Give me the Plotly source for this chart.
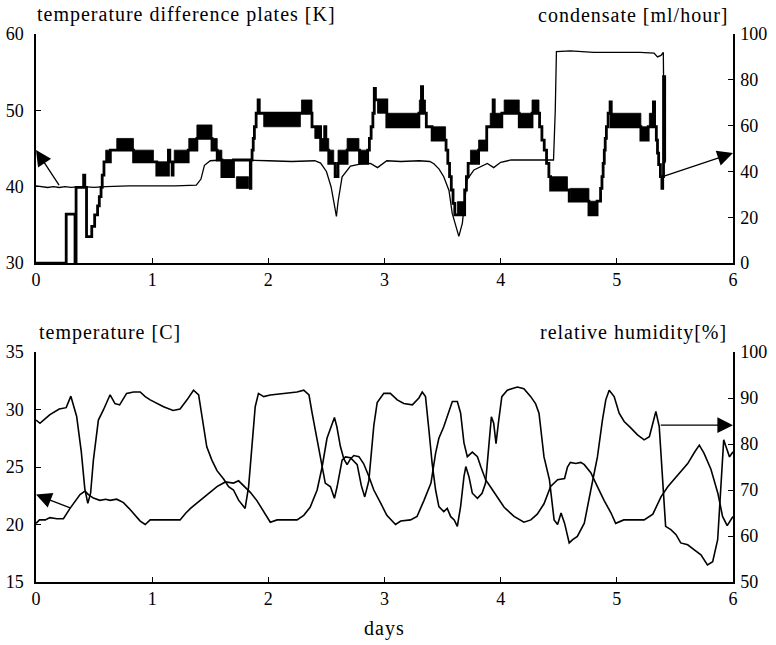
import plotly.graph_objects as go

# ---------------- data ----------------
# top panel: temperature difference plates [K] (thin line, left axis)
tdiff_t = [0.0, 0.05, 0.1, 0.15, 0.2, 0.25, 0.3, 0.4, 0.5, 0.6, 0.8, 1.0, 1.2, 1.38, 1.42, 1.45, 1.5, 1.6,
           1.8, 2.0, 2.2, 2.4, 2.45, 2.5, 2.54, 2.57, 2.586, 2.6, 2.635, 2.707, 2.8, 2.88, 2.94, 3.02,
           3.14, 3.3, 3.39, 3.425, 3.47, 3.51, 3.555, 3.583, 3.61, 3.64, 3.67, 3.69, 3.71, 3.77, 3.885,
           3.94, 4.0, 4.09, 4.37, 4.455, 4.47, 4.48, 4.6, 4.7, 4.8, 5.0, 5.2, 5.32, 5.35, 5.38, 5.40, 5.41]
tdiff_v = [40.1, 40.0, 39.9, 40.0, 39.9, 40.0, 39.9, 40.0, 39.9, 40.0, 40.1, 40.1, 40.1, 40.2, 41.0, 42.8, 43.4, 43.5,
           43.5, 43.4, 43.3, 43.4, 43.1, 42.0, 40.0, 37.5, 36.1, 38.0, 41.3, 42.7, 43.0, 43.05, 42.5, 43.4,
           43.3, 43.4, 43.3, 43.0, 42.3, 41.3, 39.5, 36.5, 35.0, 33.5, 35.2, 38.5, 40.9, 42.2, 43.05,
           42.5, 43.2, 43.5, 43.5, 43.5, 50.0, 57.7, 57.8, 57.7, 57.6, 57.6, 57.6, 57.5, 57.0, 57.2, 57.6, 43.3]

# top panel: condensate [ml/hour] (thick stepped line, right axis), (start day, value)
condensate_steps = [
    (0.00, 0), (0.26, 21.4), (0.336, 0), (0.345, 33), (0.41, 38.4), (0.42, 33), (0.435, 11.5),
    (0.48, 16), (0.505, 21), (0.53, 25), (0.545, 29), (0.56, 33), (0.57, 38.4), (0.585, 44.2),
    (0.64, 49.3), (0.695, 49.3), (0.84, 44.2), (1.04, 38.4), (1.14, 49.3), (1.152, 44.2),
    (1.172, 38.4), (1.18, 44.2), (1.31, 49.3), (1.385, 54.4), (1.515, 49.3), (1.56, 45.0),
    (1.60, 37.7), (1.70, 45.0), (1.845, 32.6), (1.85, 45.0), (1.86, 49.3), (1.87, 54.4),
    (1.88, 59.5), (1.895, 65.4), (1.912, 71.2), (1.922, 65.4), (2.28, 65.4), (2.376, 59.5),
    (2.45, 49.3), (2.485, 59.5), (2.495, 49.3), (2.52, 43.5), (2.575, 37.7), (2.60, 43.5),
    (2.678, 49.3), (2.785, 43.5), (2.855, 49.3), (2.87, 54.4), (2.885, 59.5), (2.90, 65.4),
    (2.912, 76.3), (2.922, 71.2), (3.02, 59.5), (3.296, 65.4), (3.318, 77.0), (3.328, 65.4),
    (3.36, 59.5), (3.41, 53.7), (3.53, 49.3), (3.545, 43.5), (3.56, 37.7), (3.575, 31.9),
    (3.59, 26.1), (3.605, 21.0), (3.69, 31.9), (3.705, 37.7), (3.72, 43.5), (3.81, 49.3),
    (3.88, 59.5), (3.935, 71.2), (3.945, 59.5), (4.01, 65.4), (4.16, 59.5), (4.27, 65.4),
    (4.335, 59.5), (4.355, 53.7), (4.375, 49.3), (4.395, 43.5), (4.415, 37.7), (4.43, 31.9),
    (4.59, 27.0), (4.76, 21.0), (4.83, 27.0), (4.86, 32.6), (4.872, 37.7), (4.882, 43.5),
    (4.892, 49.3), (4.90, 54.4), (4.91, 59.5), (4.925, 65.4), (4.942, 70.4), (4.952, 59.5),
    (5.207, 53.7), (5.27, 59.5), (5.315, 70.4), (5.325, 59.5), (5.34, 53.7), (5.35, 48.0),
    (5.36, 43.0), (5.375, 37.7), (5.388, 32.6), (5.395, 37.7), (5.402, 81.4), (5.412, 44.2),
    (5.42, 44.2),
]
# condensate noise bands (start day, end day, low, high) in ml/hour
condensate_bands = [
    (0.60, 0.64, 44.2, 49.3), (0.695, 0.839, 49.3, 54.4), (0.845, 1.011, 44.2, 49.3),
    (1.04, 1.14, 38.4, 44.2), (1.19, 1.31, 44.2, 49.3), (1.315, 1.385, 49.3, 54.4),
    (1.385, 1.515, 54.4, 60.3), (1.515, 1.56, 49.3, 54.4), (1.56, 1.60, 45.0, 49.3),
    (1.60, 1.70, 37.7, 45.0), (1.725, 1.83, 32.6, 37.7), (1.96, 2.276, 59.5, 65.4),
    (2.285, 2.376, 65.4, 71.2), (2.40, 2.45, 54.4, 59.5), (2.45, 2.52, 49.3, 54.4),
    (2.52, 2.563, 43.5, 49.3), (2.60, 2.678, 43.5, 49.3), (2.678, 2.78, 49.3, 54.4),
    (2.79, 2.85, 43.5, 49.3), (2.94, 3.02, 65.4, 71.2), (3.02, 3.296, 59.5, 65.4),
    (3.30, 3.353, 65.4, 71.2), (3.41, 3.526, 53.7, 59.5), (3.627, 3.684, 21.0, 26.8),
    (3.74, 3.81, 43.5, 49.3), (3.81, 3.88, 49.3, 53.7), (3.91, 4.01, 59.5, 65.4),
    (4.03, 4.16, 65.4, 71.2), (4.16, 4.27, 59.5, 65.4), (4.27, 4.33, 65.4, 71.2),
    (4.43, 4.575, 31.9, 37.7), (4.60, 4.76, 27.0, 32.6), (4.76, 4.83, 21.0, 27.0),
    (4.95, 5.207, 59.5, 65.4), (5.21, 5.27, 53.7, 59.5), (5.28, 5.32, 59.5, 65.4),
]

# bottom panel: temperature [C] (left axis)
temp_t = [0.0, 0.03, 0.08, 0.12, 0.18, 0.236, 0.293, 0.34, 0.379, 0.422, 0.451, 0.494, 0.55, 0.6, 0.638,
          0.695, 0.753, 0.81, 0.86, 0.897, 0.94, 0.983, 1.05, 1.15, 1.24, 1.29, 1.33, 1.39, 1.44, 1.514,
          1.558, 1.63, 1.70, 1.744, 1.787, 1.845, 1.9, 1.96, 2.017, 2.075, 2.15, 2.247, 2.305, 2.36,
          2.42, 2.463, 2.505, 2.55, 2.569, 2.59, 2.62, 2.65, 2.678, 2.707, 2.736, 2.78, 2.82, 2.865,
          2.908, 2.965, 3.02, 3.095, 3.14, 3.224, 3.28, 3.34, 3.4, 3.44, 3.468, 3.51, 3.554, 3.584,
          3.627, 3.655, 3.684, 3.713, 3.756, 3.8, 3.83, 3.87, 3.91, 3.97, 4.03, 4.115, 4.2, 4.26,
          4.315, 4.373, 4.43, 4.49, 4.55, 4.575, 4.6, 4.647, 4.69, 4.72, 4.776, 4.833, 4.89, 4.95,
          4.99, 5.06, 5.235, 5.31, 5.38, 5.44, 5.52, 5.61, 5.67, 5.71, 5.75, 5.81, 5.87, 5.91, 5.95,
          5.98, 6.0]
temp_v = [20.1, 20.4, 20.4, 20.6, 20.5, 20.5, 21.4, 22.0, 22.6, 22.9, 22.6, 22.3, 22.1, 22.2, 22.1,
          22.2, 21.9, 21.3, 20.7, 20.3, 20.0, 20.4, 20.4, 20.4, 20.4, 21.0, 21.4, 21.9, 22.3, 22.9,
          23.3, 23.7, 23.6, 23.8, 23.4, 22.8, 22.1, 21.1, 20.2, 20.4, 20.4, 20.4, 20.8, 21.5,
          23.0, 25.0, 27.5, 28.9, 29.3, 28.5, 26.8, 25.7, 25.2, 25.7, 26.0, 25.9, 25.3, 24.2,
          23.0, 21.9, 20.8, 20.0, 20.3, 20.4, 20.7, 22.1, 23.6, 26.2, 27.5, 28.5, 29.8, 30.7,
          30.7, 29.7, 27.1, 25.9, 26.3, 25.9, 25.0, 23.9, 23.3, 22.4, 21.5, 20.7, 20.2, 20.4,
          20.9, 21.8, 23.3, 23.9, 24.0, 25.0, 25.4, 25.3, 25.4, 25.2, 24.5, 23.3, 22.1, 21.0,
          20.1, 20.4, 20.4, 20.9, 22.4, 23.3, 24.2, 25.3, 26.3, 26.9, 26.2, 24.8, 22.7, 20.7, 19.9,
          20.4, 20.7]

# bottom panel: relative humidity [%] (right axis)
hum_t = [0.0, 0.034, 0.08, 0.12, 0.2, 0.26, 0.3, 0.35, 0.39, 0.42, 0.446, 0.47, 0.494, 0.537, 0.58,
         0.638, 0.68, 0.72, 0.78, 0.84, 0.897, 0.94, 0.983, 1.04, 1.098, 1.18, 1.24, 1.30, 1.356, 1.4,
         1.44, 1.47, 1.514, 1.558, 1.615, 1.658, 1.70, 1.744, 1.787, 1.80, 1.83, 1.86, 1.887, 1.915,
         1.96, 2.017, 2.13, 2.247, 2.305, 2.35, 2.377, 2.42, 2.463, 2.49, 2.535, 2.569, 2.592, 2.635,
         2.664, 2.707, 2.765, 2.8, 2.83, 2.865, 2.908, 2.937, 2.994, 3.05, 3.11, 3.166, 3.24, 3.296,
         3.325, 3.353, 3.382, 3.41, 3.44, 3.468, 3.51, 3.54, 3.57, 3.6, 3.627, 3.655, 3.684, 3.70,
         3.727, 3.756, 3.8, 3.84, 3.87, 3.9, 3.92, 3.94, 3.96, 3.98, 4.01, 4.057, 4.144, 4.2, 4.259,
         4.3, 4.33, 4.373, 4.42, 4.46, 4.49, 4.52, 4.55, 4.59, 4.62, 4.66, 4.72, 4.776, 4.833, 4.876,
         4.905, 4.934, 4.977, 5.02, 5.063, 5.12, 5.178, 5.235, 5.28, 5.31, 5.336, 5.365, 5.394, 5.42,
         5.465, 5.51, 5.55, 5.61, 5.667, 5.724, 5.78, 5.825, 5.868, 5.897, 5.92, 5.94, 5.97, 6.0]
hum_v = [85.2, 84.5, 85.5, 86.4, 87.6, 87.9, 90.4, 86.0, 78.3, 70.3, 67.1, 69.3, 76.5, 85.2, 87.4,
         90.7, 88.8, 88.5, 91.0, 91.3, 91.3, 90.3, 89.6, 88.9, 88.1, 87.3, 87.6, 89.6, 91.7, 90.7,
         84.5, 79.4, 76.5, 74.2, 72.4, 70.7, 70.0, 67.8, 66.4, 66.0, 70.7, 79.4, 88.1, 91.0,
         90.3, 90.65, 91.0, 91.3, 91.7, 90.65, 86.7, 80.9, 75.1, 71.5, 70.7, 68.2, 70.7, 76.5,
         77.2, 77.0, 75.5, 71.0, 68.5, 72.0, 84.0, 89.0, 91.0, 91.0, 89.6, 88.8, 88.5, 90.0,
         91.3, 90.3, 83.1, 75.8, 70.0, 66.4, 65.3, 66.0, 64.2, 63.5, 62.1, 66.4, 72.9, 75.1,
         72.9, 69.3, 68.2, 69.3, 71.5, 79.4, 85.9, 84.5, 80.1, 84.5, 90.3, 91.7, 92.4, 92.0, 90.3,
         88.8, 86.7, 77.2, 72.2, 63.5, 62.5, 65.0, 62.8, 58.5, 59.2, 59.9, 62.8, 70.0, 77.2, 85.2,
         89.6, 91.7, 90.3, 86.7, 84.9, 83.5, 82.0, 80.9, 81.6, 84.5, 87.1, 83.8, 72.2, 62.1,
         61.4, 60.3, 58.5, 58.1, 57.0, 55.9, 53.7, 54.4, 59.2, 70.0, 80.9, 79.4, 77.2, 78.3]

x_ticks = [0, 1, 2, 3, 4, 5, 6]

# ---------------- figure ----------------
cond_t = [p[0] for p in condensate_steps]
cond_v = [p[1] for p in condensate_steps]
band_x, band_y = [], []
for t0, t1, lo, hi in condensate_bands:
    band_x += [t0, t1, t1, t0, t0, None]
    band_y += [lo, lo, hi, hi, lo, None]

fig = go.Figure()
fig.add_trace(go.Scatter(x=tdiff_t, y=tdiff_v, mode="lines", xaxis="x", yaxis="y",
                         line=dict(color="black", width=1.3)))
fig.add_trace(go.Scatter(x=band_x, y=band_y, mode="lines", xaxis="x", yaxis="y2", fill="toself",
                         fillcolor="black", line=dict(color="black", width=0.8)))
fig.add_trace(go.Scatter(x=cond_t, y=cond_v, mode="lines", xaxis="x", yaxis="y2",
                         line=dict(color="black", width=2.8, shape="hv")))
fig.add_trace(go.Scatter(x=temp_t, y=temp_v, mode="lines", xaxis="x2", yaxis="y3",
                         line=dict(color="black", width=1.6)))
fig.add_trace(go.Scatter(x=hum_t, y=hum_v, mode="lines", xaxis="x2", yaxis="y4",
                         line=dict(color="black", width=1.6)))

FONT = "Liberation Serif, Times New Roman, serif"
tickfont = dict(family=FONT, size=18, color="black")
common = dict(showline=True, linecolor="black", linewidth=1.5, ticks="inside", ticklen=5,
              tickcolor="black", tickwidth=1.2, showgrid=False, zeroline=False, tickfont=tickfont,
              automargin=False)

fig.update_layout(
    width=776, height=645,
    margin=dict(l=36, r=43, t=34, b=63, autoexpand=False),
    paper_bgcolor="white", plot_bgcolor="white",
    showlegend=False,
    xaxis=dict(domain=[0, 1], anchor="y", range=[0, 6], tickvals=x_ticks, **common),
    yaxis=dict(domain=[0.582, 1.0], anchor="x", range=[30, 60], dtick=10, ticklabelstandoff=7, **common),
    yaxis2=dict(overlaying="y", anchor="x", side="right", range=[0, 100], dtick=20,
                ticklabelstandoff=2, **common),
    xaxis2=dict(domain=[0, 1], anchor="y3", range=[0, 6], tickvals=x_ticks, **common),
    yaxis3=dict(domain=[0, 0.4197], anchor="x2", range=[15, 35], dtick=5, ticklabelstandoff=7, **common),
    yaxis4=dict(overlaying="y3", anchor="x2", side="right", range=[50, 100], dtick=10,
                ticklabelstandoff=2, **common),
)

titlefont = dict(family=FONT, size=20, color="black")
def sp(s):
    return '<span style="letter-spacing:1px">' + s + '</span>'

ann = [
    dict(text=sp("temperature difference plates [K]"), x=-0.0015, y=1.0347, xanchor="left"),
    dict(text=sp("condensate [ml/hour]"), x=0.997, y=1.0347, xanchor="right"),
    dict(text=sp("temperature [C]"), x=0.0015, y=0.456, xanchor="left"),
    dict(text=sp("relative humidity[%]"), x=0.994, y=0.456, xanchor="right"),
    dict(text=sp("days"), x=0.5, y=-0.084, xanchor="center"),
]
for a in ann:
    fig.add_annotation(xref="paper", yref="paper", yanchor="middle", showarrow=False,
                       font=titlefont, **a)

arrow = dict(text="", showarrow=True, arrowhead=2, arrowsize=2.4, arrowwidth=1.3,
             arrowcolor="black", standoff=0, startstandoff=0)
fig.add_annotation(x=0, y=44.8, ax=0.207, ay=40.0, xref="x", yref="y", axref="x", ayref="y", **arrow)
fig.add_annotation(x=6, y=48.0, ax=5.394, ay=37.7, xref="x", yref="y2", axref="x", ayref="y2", **arrow)
fig.add_annotation(x=0, y=22.6, ax=0.307, ay=21.4, xref="x2", yref="y3", axref="x2", ayref="y3", **arrow)
fig.add_annotation(x=6, y=84.1, ax=5.365, ay=84.1, xref="x2", yref="y4", axref="x2", ayref="y4", **arrow)

fig.write_html("out.html", config={"displayModeBar": False},
               post_script="document.body.style.margin='0';")
